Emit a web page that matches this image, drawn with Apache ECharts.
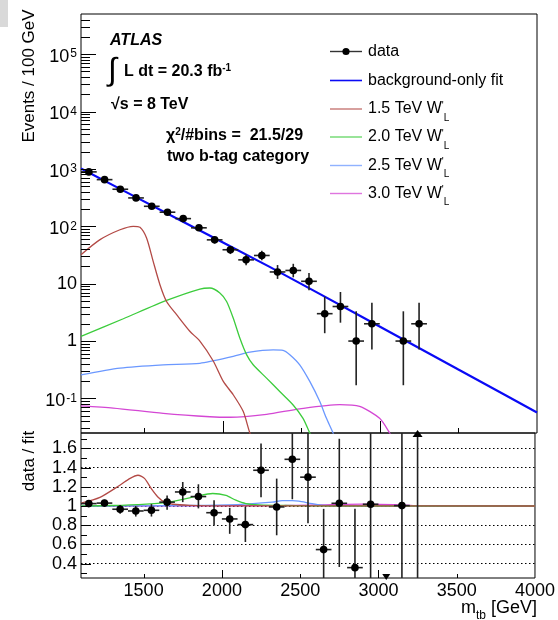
<!DOCTYPE html>
<html>
<head>
<meta charset="utf-8">
<script src="https://cdn.jsdelivr.net/npm/echarts@6/dist/echarts.min.js"></script>
<style>
  html, body { margin: 0; padding: 0; background: #fff; }
  #chart { width: 558px; height: 620px; }
</style>
</head>
<body>
<div id="chart"></div>
<script>
// bins of 100 GeV
const binCenters = [1150, 1250, 1350, 1450, 1550, 1650, 1750, 1850, 1950, 2050, 2150,
  2250, 2350, 2450, 2550, 2650, 2750, 2850, 2950, 3050, 3150, 3250]
const binHalfWidth = 50
const eventCounts = [887, 650, 442, 312, 223, 176, 136, 94, 58, 39, 26, 31, 16, 17, 11, 3, 4, 1, 2, 0, 1, 2]
const countLow = [857, 625, 421, 294, 208, 163, 124, 84, 50.4, 32.8, 20.9, 25.5, 12.1, 12.9, 7.7, 1.37, 2.09, 0.17, 0.71, 0, 0.17, 0.71]
const countHigh = [917, 675, 463, 330, 238, 189, 148, 104, 65.7, 45.3, 32.1, 37.6, 21.1, 22.2, 15.4, 5.92, 7.16, 3.3, 4.64, 0, 3.3, 4.64]

// data / fit
const ratioValues = [1.025, 1.03, 0.966, 0.948, 0.955, 1.04, 1.146, 1.098, 0.93, 0.865, 0.806,
  1.372, 0.99, 1.486, 1.30, 0.546, 1.028, 0.358, 1.018, 0, 1.004, 2.2]
const ratioLow = [0.995, 0.995, 0.92, 0.89, 0.89, 0.96, 1.04, 0.975, 0.80, 0.71, 0.625,
  1.09, 0.695, 1.07, 0.82, 0.2, 0.365, 0.1, 0.2, 0, 0.1, 0.1]
const ratioHigh = [1.055, 1.065, 1.01, 1.0, 1.02, 1.11, 1.25, 1.226, 1.06, 0.98, 0.99,
  1.65, 1.285, 1.95, 1.8, 0.97, 1.70, 0.97, 2.3, 0, 3.3, 5]

// background-only fit
const bkgFit = [[1100, 1012], [1400, 378], [1700, 141], [2000, 52.6], [2300, 19.6], [2600, 7.06],
  [2900, 2.52], [3200, 0.90], [3500, 0.319], [3800, 0.114], [4000, 0.057]]

// W'_L signals
const sig15 = [[1100, 32], [1221, 58.5], [1348, 87], [1432, 100], [1475, 96], [1517, 62.5], [1559, 24.5],
  [1602, 9.6], [1644, 4.9], [1708, 2.88], [1792, 1.48], [1856, 1.0], [1941, 0.45], [2005, 0.198],
  [2068, 0.116], [2132, 0.059], [2174, 0.025], [2200, 0.018]]
const sig20 = [[1100, 1.21], [1369, 2.45], [1644, 5.1], [1856, 8.07], [1920, 8.4], [1983, 6.9], [2026, 4.9],
  [2068, 2.52], [2110, 1.13], [2153, 0.58], [2195, 0.386], [2280, 0.226], [2364, 0.132], [2449, 0.077],
  [2512, 0.045], [2555, 0.025], [2580, 0.018]]
const sig25 = [[1100, 0.258], [1348, 0.338], [1623, 0.386], [1856, 0.41], [2068, 0.54], [2174, 0.64],
  [2322, 0.70], [2385, 0.69], [2428, 0.58], [2491, 0.386], [2555, 0.198], [2618, 0.089], [2661, 0.045],
  [2703, 0.025], [2720, 0.018]]
const sig30 = [[1100, 0.074], [1305, 0.068], [1623, 0.055], [1920, 0.048], [2050, 0.047], [2280, 0.053],
  [2491, 0.066], [2745, 0.078], [2872, 0.0726], [2999, 0.045], [3063, 0.025], [3090, 0.018]]

// (signal + fit) / fit
const ratio15 = [[1100, 1.03], [1221, 1.09], [1348, 1.216], [1411, 1.285], [1464, 1.32], [1507, 1.285],
  [1549, 1.18], [1591, 1.094], [1634, 1.04], [1687, 1.018], [1792, 1.007], [2000, 1.002], [4000, 1.0]]
const ratio20 = [[1100, 1.0], [1300, 1.005], [1517, 1.02], [1665, 1.04], [1835, 1.10], [1941, 1.13],
  [2026, 1.11], [2089, 1.06], [2153, 1.025], [2237, 1.012], [2400, 1.005], [2700, 1.0], [4000, 1.0]]
const ratio25 = [[1100, 1.0], [1800, 1.005], [2100, 1.015], [2322, 1.04], [2385, 1.055], [2450, 1.055],
  [2491, 1.05], [2576, 1.025], [2661, 1.005], [2800, 1.0], [4000, 1.0]]
const ratio30 = [[1100, 1.0], [2400, 1.005], [2700, 1.015], [2900, 1.02], [3100, 1.015], [3250, 1.003],
  [3400, 1.0], [4000, 1.0]]

const xLabels = [1500, 2000, 2500, 3000, 3500, 4000]
const xMajorTicks = [2000, 3000]
const xMinorTicks = [1500, 2500, 3500]
const logTicks = [0.1, 1, 10, 100, 1000, 10000, 100000]
const ratioTicks = [0.4, 0.6, 0.8, 1, 1.2, 1.4, 1.6]
const ratioMinorTicks = [0.3, 0.5, 0.7, 0.9, 1.1, 1.3, 1.5, 1.7]

const FONT = "'Liberation Sans', Arial, Helvetica, sans-serif"
const colors = {
  bkg: '#0a0af5',
  s15: '#b34a46',
  s20: '#3ccc3c',
  s25: '#6b98ff',
  s30: '#d447d4',
}

const yMinTop = 0.025
const yMaxTop = 5e5
const rMin = 0.25
const rMax = 1.76

// minor ticks 2..9 per decade
const logMinor = []
for (let d = -2; d <= 5; d++) {
  for (let k = 2; k <= 9; k++) {
    const v = k * Math.pow(10, d)
    if (v > yMinTop && v < yMaxTop) logMinor.push(v)
  }
}

const topData = []
const ratioData = []
binCenters.forEach((x, i) => {
  if (eventCounts[i] > 0) topData.push([x, eventCounts[i], countLow[i], countHigh[i]])
  ratioData.push([x, ratioValues[i], ratioLow[i], ratioHigh[i]])
})

// tick marks: [x, y, length, 0 = left axis / 1 = bottom axis]
const topTicks = [
  ...logTicks.map((v) => [1100, v, 15, 0]),
  ...logMinor.map((v) => [1100, v, 9, 0]),
  ...xMajorTicks.map((v) => [v, yMinTop, 12, 1]),
  ...xMinorTicks.map((v) => [v, yMinTop, 5, 1]),
]
const ratioTickMarks = [
  ...ratioTicks.map((v) => [1100, v, 10, 0]),
  ...ratioMinorTicks.map((v) => [1100, v, 6, 0]),
  ...xMajorTicks.map((v) => [v, rMin, 8, 1]),
  ...xMinorTicks.map((v) => [v, rMin, 4, 1]),
]

const errStyle = { stroke: '#222', lineWidth: 1.6 }
const tickStyle = { stroke: '#000', lineWidth: 1 }

function renderTick(params, api) {
  const cs = params.coordSys
  const len = api.value(2)
  const p = api.coord([api.value(0), api.value(1)])
  if (api.value(3) === 0) {
    const y = Math.round(p[1]) + 0.5
    return { type: 'line', shape: { x1: cs.x, y1: y, x2: cs.x + len, y2: y }, style: tickStyle }
  }
  const x = Math.round(p[0]) + 0.5
  const yb = cs.y + cs.height
  return { type: 'line', shape: { x1: x, y1: yb, x2: x, y2: yb - len }, style: tickStyle }
}

function renderTop(params, api) {
  const x = api.value(0)
  const c = api.coord([x, api.value(1)])
  const hi = api.coord([x, api.value(3)])
  const lo = api.coord([x, api.value(2)])
  const l = api.coord([x - binHalfWidth, api.value(1)])
  const r = api.coord([x + binHalfWidth, api.value(1)])
  return {
    type: 'group',
    children: [
      { type: 'line', shape: { x1: c[0], y1: hi[1], x2: c[0], y2: lo[1] }, style: errStyle },
      { type: 'line', shape: { x1: l[0], y1: c[1], x2: r[0], y2: c[1] }, style: errStyle },
      { type: 'circle', shape: { cx: c[0], cy: c[1], r: 3.8 }, style: { fill: '#000' } },
    ],
  }
}

function renderRatio(params, api) {
  const cs = params.coordSys
  const yTop = cs.y
  const yBot = cs.y + cs.height
  const clampY = (v) => Math.max(yTop, Math.min(yBot, v))
  const x = api.value(0)
  const val = api.value(1)
  const cx = api.coord([x, 1])[0]
  const children = []
  if (val <= rMin) {
    children.push({ type: 'polygon', shape: { points: [[cx - 4, yBot - 4], [cx + 4, yBot - 4], [cx, yBot + 2]] }, style: { fill: '#000' } })
    return { type: 'group', children }
  }
  const hi = clampY(api.coord([x, api.value(3)])[1])
  const lo = clampY(api.coord([x, api.value(2)])[1])
  children.push({ type: 'line', shape: { x1: cx, y1: hi, x2: cx, y2: lo }, style: errStyle })
  if (val >= rMax) {
    children.push({ type: 'polygon', shape: { points: [[cx - 5, yTop + 4], [cx + 5, yTop + 4], [cx, yTop - 3]] }, style: { fill: '#000' } })
    return { type: 'group', children }
  }
  const c = api.coord([x, val])
  const l = api.coord([x - binHalfWidth, val])
  const r = api.coord([x + binHalfWidth, val])
  children.push({ type: 'line', shape: { x1: l[0], y1: c[1], x2: r[0], y2: c[1] }, style: errStyle })
  children.push({ type: 'circle', shape: { cx: c[0], cy: c[1], r: 3.8 }, style: { fill: '#000' } })
  return { type: 'group', children }
}

function curve(name, data, color, xi, yi, width) {
  return {
    name, type: 'line', data, xAxisIndex: xi, yAxisIndex: yi,
    showSymbol: false, smooth: 0.25, clip: true, z: 2,
    lineStyle: { color, width: width || 1.3 },
  }
}

const chart = echarts.init(document.getElementById('chart'), null, { renderer: 'canvas' })

const legendRows = [
  { label: 'data', color: '#333', y: 51.5 },
  { label: 'background-only fit', color: colors.bkg, y: 80.5 },
  { label: '1.5 TeV W{p|\'}{l|L}', color: colors.s15, y: 109 },
  { label: '2.0 TeV W{p|\'}{l|L}', color: colors.s20, y: 137 },
  { label: '2.5 TeV W{p|\'}{l|L}', color: colors.s25, y: 165.5 },
  { label: '3.0 TeV W{p|\'}{l|L}', color: colors.s30, y: 193.5 },
]
const legendGraphics = []
legendRows.forEach((row, i) => {
  legendGraphics.push({ type: 'line', shape: { x1: 330, y1: row.y, x2: 362, y2: row.y },
    style: { stroke: row.color, lineWidth: i === 1 ? 1.6 : 1.4, opacity: i < 2 ? 1 : 0.75 } })
  if (i === 0) legendGraphics.push({ type: 'circle', shape: { cx: 346, cy: row.y, r: 3.6 }, style: { fill: '#000' } })
  legendGraphics.push({ type: 'text', x: 368, y: row.y, style: {
    text: row.label, font: '16px ' + FONT, fill: '#000', verticalAlign: 'middle',
    rich: {
      p: { fontSize: 10, fontFamily: FONT, verticalAlign: 'top', lineHeight: 10 },
      l: { fontSize: 10, fontFamily: FONT, verticalAlign: 'bottom', lineHeight: 10, padding: [0, 0, -6, 0] },
    },
  } })
})

const option = {
  animation: false,
  backgroundColor: '#fff',
  grid: [
    { left: 81, right: 21, top: 14, height: 419, show: true, borderColor: '#000', borderWidth: 1, backgroundColor: 'transparent' },
    { left: 81, right: 21, top: 433, height: 145, show: true, borderColor: '#000', borderWidth: 1, backgroundColor: 'transparent' },
  ],
  xAxis: [
    {
      gridIndex: 0, type: 'value', min: 1100, max: 4000,
      axisLine: { show: false }, axisTick: { show: false }, axisLabel: { show: false }, splitLine: { show: false },
    },
    {
      gridIndex: 1, type: 'value', min: 1100, max: 4000,
      axisLine: { show: false }, axisTick: { show: false, customValues: xLabels },
      axisLabel: { customValues: xLabels, fontSize: 18, fontFamily: FONT, color: '#000', margin: 4, formatter: (v) => String(v) },
      splitLine: { show: false },
    },
  ],
  yAxis: [
    {
      gridIndex: 0, type: 'log', min: yMinTop, max: yMaxTop,
      axisLine: { show: false },
      axisTick: { show: false, customValues: logTicks },
      axisLabel: {
        customValues: logTicks, margin: 4,
        formatter: (v) => {
          if (v === 1) return '{b|1}'
          if (v === 10) return '{b|10}'
          return '{e|10}{s|' + Math.round(Math.log10(v)) + '}'
        },
        rich: {
          b: { fontSize: 18, fontFamily: FONT, color: '#000', lineHeight: 18 },
          e: { fontSize: 18, fontFamily: FONT, color: '#000', lineHeight: 18, padding: [6, 0, 0, 0] },
          s: { fontSize: 12, fontFamily: FONT, color: '#000', verticalAlign: 'top', lineHeight: 12, padding: [3, 0, 0, 1] },
        },
      },
      splitLine: { show: false },
    },
    {
      gridIndex: 1, type: 'value', min: rMin, max: rMax,
      axisLine: { show: false },
      axisTick: { show: false, customValues: ratioTicks },
      axisLabel: { customValues: ratioTicks, fontSize: 18, fontFamily: FONT, color: '#000', margin: 4,
        formatter: (v) => String(v) },
      splitLine: { show: true, lineStyle: { color: '#000', type: [1.5, 2.5], width: 1 } },
    },
  ],
  graphic: [
    { type: 'rect', shape: { x: 0, y: 0, width: 8, height: 27 }, style: { fill: '#d9d9d9' } },
    { type: 'text', x: 29, y: 76, rotation: Math.PI / 2, style: { text: 'Events / 100 GeV', font: '17px ' + FONT, fill: '#000', align: 'center', verticalAlign: 'middle' } },
    { type: 'text', x: 29, y: 461, rotation: Math.PI / 2, style: { text: 'data / fit', font: '17px ' + FONT, fill: '#000', align: 'center', verticalAlign: 'middle' } },
    { type: 'text', x: 537, y: 608, style: { text: '{a|m}{s|tb}{a| [GeV]}', align: 'right', verticalAlign: 'middle',
      rich: {
        a: { fontSize: 18, fontFamily: FONT, color: '#000', lineHeight: 20 },
        s: { fontSize: 12, fontFamily: FONT, color: '#000', verticalAlign: 'bottom', lineHeight: 12, padding: [0, 0, -4, 0] },
      } } },
    { type: 'text', x: 110, y: 41, style: { text: 'ATLAS', font: 'italic bold 16px ' + FONT, fill: '#000', verticalAlign: 'middle' } },
    { type: 'text', x: 108, y: 71, style: { text: '\u222B', font: '32px ' + FONT, fill: '#000', verticalAlign: 'middle' } },
    { type: 'text', x: 124, y: 72, style: { text: '{n|L dt = 20.3 fb}{s|-1}', verticalAlign: 'middle',
      rich: {
        n: { fontSize: 16, fontWeight: 'bold', fontFamily: FONT, color: '#000', lineHeight: 17 },
        s: { fontSize: 10, fontWeight: 'bold', fontFamily: FONT, color: '#000', verticalAlign: 'top', lineHeight: 10, padding: [0, 0, 6, 0] },
      } } },
    { type: 'text', x: 111, y: 105, style: { text: '\u221As = 8 TeV', font: 'bold 16px ' + FONT, fill: '#000', verticalAlign: 'middle' } },
    { type: 'text', x: 166, y: 136, style: { text: '{n|\u03C7}{s|2}{n|/#bins =  21.5/29}', verticalAlign: 'middle',
      rich: {
        n: { fontSize: 16, fontWeight: 'bold', fontFamily: FONT, color: '#000', lineHeight: 17 },
        s: { fontSize: 10, fontWeight: 'bold', fontFamily: FONT, color: '#000', verticalAlign: 'top', lineHeight: 10, padding: [0, 0, 5, 0] },
      } } },
    { type: 'text', x: 167, y: 157, style: { text: 'two b-tag category', font: 'bold 16px ' + FONT, fill: '#000', verticalAlign: 'middle' } },
    ...legendGraphics,
  ],
  series: [
    curve('3.0 TeV', sig30, colors.s30, 0, 0),
    curve('2.5 TeV', sig25, colors.s25, 0, 0),
    curve('2.0 TeV', sig20, colors.s20, 0, 0),
    curve('1.5 TeV', sig15, colors.s15, 0, 0),
    {
      name: 'background-only fit', type: 'line', data: bkgFit, xAxisIndex: 0, yAxisIndex: 0,
      showSymbol: false, clip: true, z: 3, lineStyle: { color: colors.bkg, width: 2.2 },
    },
    {
      name: 'data', type: 'custom', xAxisIndex: 0, yAxisIndex: 0, data: topData,
      encode: { x: 0, y: 1 }, renderItem: renderTop, clip: true, z: 5,
    },
    {
      name: 'ticks', type: 'custom', xAxisIndex: 0, yAxisIndex: 0, data: topTicks, silent: true,
      encode: { x: 0, y: 1 }, renderItem: renderTick, clip: false, z: 6,
    },
    curve('r3.0', ratio30, colors.s30, 1, 1),
    curve('r2.5', ratio25, colors.s25, 1, 1),
    curve('r2.0', ratio20, colors.s20, 1, 1),
    curve('r1.5', ratio15, colors.s15, 1, 1),
    {
      name: 'data / fit', type: 'custom', xAxisIndex: 1, yAxisIndex: 1, data: ratioData,
      encode: { x: 0, y: 1 }, renderItem: renderRatio, clip: false, z: 5,
    },
    {
      name: 'ratio ticks', type: 'custom', xAxisIndex: 1, yAxisIndex: 1, data: ratioTickMarks, silent: true,
      encode: { x: 0, y: 1 }, renderItem: renderTick, clip: false, z: 6,
    },
  ],
}

chart.setOption(option)
window.addEventListener('resize', () => chart.resize())
</script>
</body>
</html>
